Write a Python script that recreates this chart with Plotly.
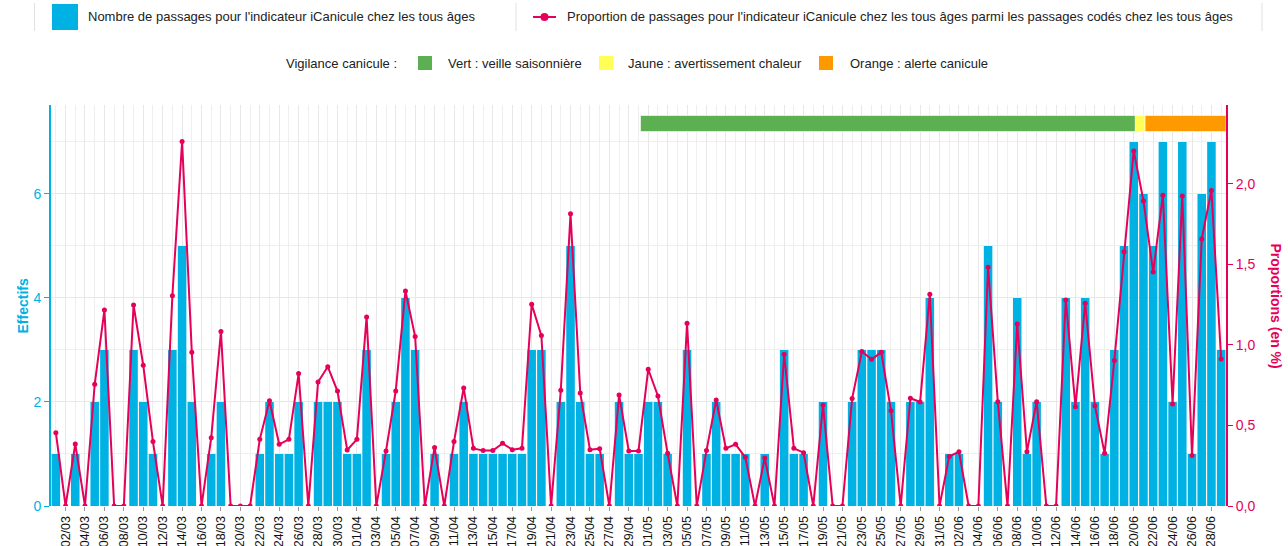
import pandas as pd
import plotly.graph_objects as go

# ---- data ----
start_date = "2025-03-01"
end_date = "2025-06-29"
dates = pd.date_range(start_date, end_date, freq="D")

counts = [1, 0, 1, 0, 2, 3, 0, 0, 3, 2,
          1, 0, 3, 5, 2, 0, 1, 2, 0, 0,
          0, 1, 2, 1, 1, 2, 0, 2, 2, 2,
          1, 1, 3, 0, 1, 2, 4, 3, 0, 1,
          0, 1, 2, 1, 1, 1, 1, 1, 1, 3,
          3, 0, 2, 5, 2, 1, 1, 0, 2, 1,
          1, 2, 2, 1, 0, 3, 0, 1, 2, 1,
          1, 1, 0, 1, 0, 3, 1, 1, 0, 2,
          0, 0, 2, 3, 3, 3, 2, 0, 2, 2,
          4, 0, 1, 1, 0, 0, 5, 2, 0, 4,
          1, 2, 0, 0, 4, 2, 4, 2, 1, 3,
          5, 7, 6, 5, 7, 2, 7, 1, 6, 7, 3]

proportions = [0.455, 0, 0.385, 0, 0.756, 1.217, 0, 0, 1.248, 0.874,
               0.40, 0, 1.306, 2.263, 0.954, 0, 0.424, 1.083, 0, 0,
               0, 0.414, 0.654, 0.383, 0.414, 0.822, 0, 0.770, 0.865, 0.714,
               0.348, 0.414, 1.174, 0, 0.342, 0.714, 1.335, 1.052, 0, 0.364,
               0, 0.40, 0.733, 0.358, 0.344, 0.344, 0.389, 0.35, 0.358, 1.253,
               1.058, 0, 0.718, 1.814, 0.702, 0.35, 0.356, 0, 0.689, 0.342,
               0.342, 0.849, 0.683, 0.327, 0, 1.135, 0, 0.344, 0.658, 0.358,
               0.383, 0.302, 0, 0.298, 0, 0.942, 0.358, 0.331, 0, 0.627,
               0, 0, 0.667, 0.959, 0.911, 0.954, 0.592, 0, 0.669, 0.646,
               1.315, 0, 0.308, 0.337, 0, 0, 1.483, 0.648, 0, 1.130,
               0.337, 0.648, 0, 0, 1.279, 0.617, 1.259, 0.623, 0.327, 0.903,
               1.578, 2.205, 1.894, 1.453, 1.930, 0.634, 1.925, 0.313, 1.658, 1.959, 0.913]

vig_starts = ["2025-04-30 05:00", "2025-06-20 04:00", "2025-06-21 04:00"]
vig_ends = ["2025-06-20 04:00", "2025-06-21 04:00", "2025-06-29 12:00"]
vig_colors = ["#5cb052", "#ffff55", "#ff9900"]
vig_labels = ["Vert : veille saisonnière", "Jaune : avertissement chaleur", "Orange : alerte canicule"]

bar_name = "Nombre de passages pour l'indicateur iCanicule chez les tous âges"
line_name = "Proportion de passages pour l'indicateur iCanicule chez les tous âges parmi les passages codés chez les tous âges"
y_left_ticks = [0, 2, 4, 6]
y_right_ticks = [0, 0.5, 1.0, 1.5, 2.0]

BLUE = "#00b2e3"
RED = "#e5005a"
FONT = "Liberation Sans, Arial, sans-serif"

# ---- layout geometry (pixels) ----
W, H = 1288, 546
L, R, T, B = 51, 1226, 105, 506


def px(xp):
    return (xp - L) / (R - L)


def py(yp):
    return (B - yp) / (B - T)


fig = go.Figure()
fig.add_trace(go.Bar(x=dates, y=counts, marker=dict(color=BLUE, line=dict(width=0)),
                     name=bar_name, showlegend=False, yaxis="y"))
fig.add_trace(go.Scatter(x=dates, y=proportions, mode="lines+markers",
                         line=dict(color=RED, width=2), marker=dict(color=RED, size=5),
                         name=line_name, showlegend=False, yaxis="y2"))

shapes = []
for s, e, c in zip(vig_starts, vig_ends, vig_colors):
    shapes.append(dict(type="rect", xref="x", yref="paper", x0=s, x1=e,
                       y0=py(131.5), y1=py(115.5), fillcolor=c,
                       line=dict(color="rgba(255,255,255,0.6)", width=1), layer="above"))

annotations = []
# legend 1
for xs in [34.5, 516, 1262]:
    shapes.append(dict(type="line", xref="paper", yref="paper", x0=px(xs), x1=px(xs),
                       y0=py(3), y1=py(31), line=dict(color="#e0e0e0", width=1)))
shapes.append(dict(type="rect", xref="paper", yref="paper", x0=px(52), x1=px(78),
                   y0=py(30), y1=py(4), fillcolor=BLUE, line=dict(width=0)))
annotations.append(dict(text=bar_name, xref="paper", yref="paper", x=px(86), y=py(17),
                        xanchor="left", yanchor="middle", showarrow=False,
                        font=dict(family=FONT, size=13, color="#222222")))
shapes.append(dict(type="line", xref="paper", yref="paper", x0=px(533), x1=px(556),
                   y0=py(17), y1=py(17), line=dict(color=RED, width=2)))
shapes.append(dict(type="circle", xref="paper", yref="paper", x0=px(540.5), x1=px(548.5),
                   y0=py(21), y1=py(13), fillcolor=RED, line=dict(width=0)))
annotations.append(dict(text=line_name, xref="paper", yref="paper", x=px(565), y=py(17),
                        xanchor="left", yanchor="middle", showarrow=False,
                        font=dict(family=FONT, size=13, color="#222222")))
# legend 2 (vigilance)
annotations.append(dict(text="Vigilance canicule :", xref="paper", yref="paper", x=px(284), y=py(63),
                        xanchor="left", yanchor="middle", showarrow=False,
                        font=dict(family=FONT, size=13, color="#222222")))
sq_x = [418, 599, 819]
txt_x = [446, 626, 848]
for c, lab, sx, tx in zip(vig_colors, vig_labels, sq_x, txt_x):
    shapes.append(dict(type="rect", xref="paper", yref="paper", x0=px(sx), x1=px(sx + 14),
                       y0=py(70), y1=py(56), fillcolor=c, line=dict(width=0)))
    annotations.append(dict(text=lab, xref="paper", yref="paper", x=px(tx), y=py(63),
                            xanchor="left", yanchor="middle", showarrow=False,
                            font=dict(family=FONT, size=13, color="#222222")))
# axis titles
annotations.append(dict(text="<b>Effectifs</b>", xref="paper", yref="paper", x=px(22), y=0.5,
                        xanchor="center", yanchor="middle", textangle=-90, showarrow=False,
                        font=dict(family=FONT, size=14, color=BLUE)))
annotations.append(dict(text="<b>Proportions (en %)</b>", xref="paper", yref="paper", x=px(1276), y=0.5,
                        xanchor="center", yanchor="middle", textangle=90, showarrow=False,
                        font=dict(family=FONT, size=14, color=RED)))

fig.update_layout(
    width=W, height=H,
    margin=dict(l=L, r=W - R, t=T, b=H - B, autoexpand=False),
    plot_bgcolor="white", paper_bgcolor="white",
    separators=", ",
    bargap=0.12,
    font=dict(family=FONT, size=13, color="#222222"),
    shapes=shapes, annotations=annotations,
    xaxis=dict(type="date", range=["2025-02-28 12:00", "2025-06-29 12:00"], automargin=False,
               tick0="2025-03-02", dtick=2 * 86400000, tickformat="%d/%m", tickangle=-90,
               ticks="outside", ticklen=4, tickcolor="#999999",
               tickfont=dict(family=FONT, size=12.5, color="#111111"),
               showgrid=True, gridcolor="#e8e8e8", gridwidth=1,
               minor=dict(dtick=86400000, showgrid=True, gridcolor="#efefef", gridwidth=1),
               showline=False, zeroline=False),
    yaxis=dict(range=[0, 7.71], tickvals=y_left_ticks, ticks="outside", ticklen=5, tickcolor=BLUE,
               automargin=False,
               tickfont=dict(family=FONT, size=14, color=BLUE),
               showgrid=True, gridcolor="#e8e8e8", gridwidth=1,
               minor=dict(dtick=1, showgrid=True, gridcolor="#efefef"),
               showline=True, linecolor=BLUE, linewidth=2, zeroline=False),
    yaxis2=dict(range=[0, 2.49], overlaying="y", side="right", tickvals=y_right_ticks,
                automargin=False,
                tickformat=".1f", ticksuffix="%", ticks="outside", ticklen=5, tickcolor=RED,
                tickfont=dict(family=FONT, size=14, color=RED),
                showgrid=False, showline=True, linecolor=RED, linewidth=2, zeroline=False),
)

fig.write_html("out.html", config={"displayModeBar": False},
               post_script="document.body.style.margin='0';document.body.style.overflow='hidden';")
